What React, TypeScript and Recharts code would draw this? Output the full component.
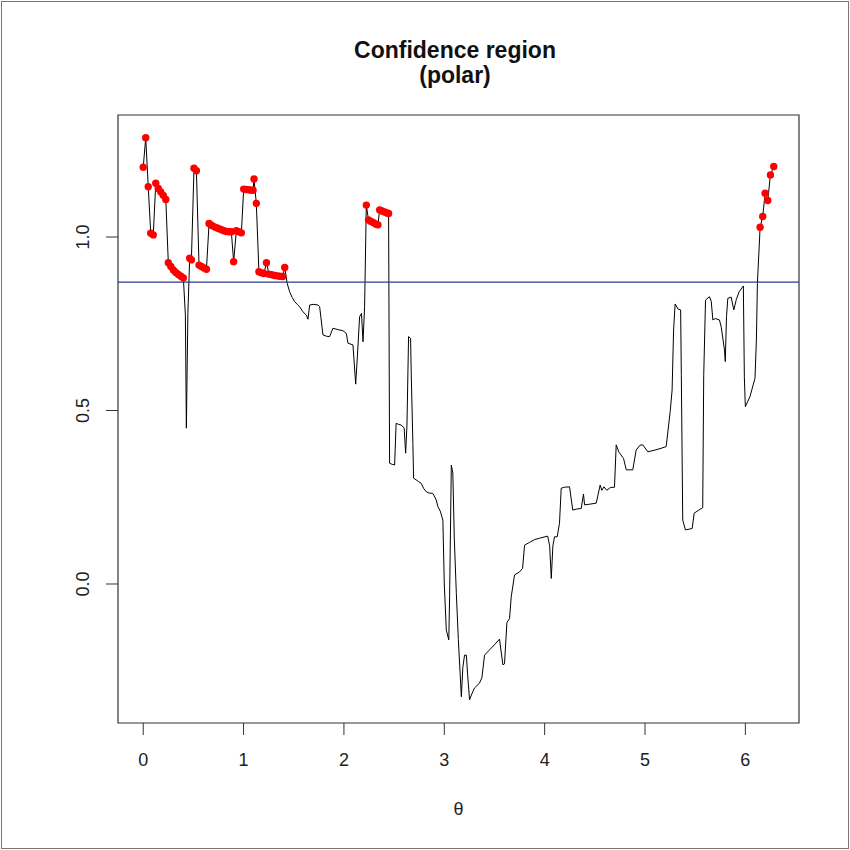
import { ComposedChart, Line, Scatter, XAxis, YAxis, ReferenceLine, ReferenceArea } from 'recharts';

// angle values (radians) and radius of the confidence boundary
const THETA = [
  0.000, 0.025, 0.050, 0.075, 0.100, 0.125, 0.150, 0.175, 0.200, 0.225,
  0.250, 0.275, 0.300, 0.325, 0.350, 0.375, 0.400, 0.420, 0.430, 0.445,
  0.463, 0.480, 0.506, 0.530, 0.556, 0.580, 0.605, 0.630, 0.656, 0.680,
  0.705, 0.730, 0.755, 0.780, 0.805, 0.830, 0.855, 0.878, 0.901, 0.928,
  0.953, 0.978, 1.001, 1.025, 1.050, 1.075, 1.094, 1.104, 1.127, 1.153,
  1.178, 1.203, 1.228, 1.253, 1.280, 1.310, 1.335, 1.360, 1.390, 1.410,
  1.434, 1.459, 1.484, 1.509, 1.534, 1.559, 1.590, 1.625, 1.642, 1.658,
  1.700, 1.741, 1.758, 1.791, 1.825, 1.858, 1.890, 1.940, 1.990, 2.024,
  2.040, 2.090, 2.117, 2.135, 2.156, 2.175, 2.190, 2.206, 2.223, 2.245,
  2.270, 2.295, 2.320, 2.339, 2.356, 2.380, 2.405, 2.430, 2.445, 2.455,
  2.480, 2.505, 2.520, 2.545, 2.570, 2.600, 2.615, 2.628, 2.644, 2.664,
  2.671, 2.687, 2.694, 2.720, 2.745, 2.770, 2.795, 2.820, 2.850, 2.886,
  2.920, 2.936, 2.960, 2.986, 3.000, 3.020, 3.045, 3.053, 3.070, 3.085,
  3.100, 3.120, 3.140, 3.170, 3.185, 3.202, 3.220, 3.232, 3.252, 3.270,
  3.300, 3.350, 3.375, 3.401, 3.450, 3.500, 3.550, 3.584, 3.600, 3.624,
  3.650, 3.667, 3.700, 3.750, 3.780, 3.800, 3.850, 3.900, 3.949, 4.030,
  4.050, 4.066, 4.082, 4.098, 4.125, 4.148, 4.165, 4.200, 4.248, 4.280,
  4.320, 4.365, 4.387, 4.398, 4.450, 4.514, 4.553, 4.570, 4.590, 4.620,
  4.655, 4.696, 4.713, 4.740, 4.786, 4.813, 4.845, 4.878, 4.912, 4.950,
  4.978, 5.028, 5.100, 5.160, 5.211, 5.230, 5.251, 5.270, 5.285, 5.300,
  5.330, 5.355, 5.362, 5.376, 5.403, 5.440, 5.470, 5.490, 5.536, 5.575,
  5.585, 5.603, 5.642, 5.660, 5.676, 5.700, 5.742, 5.760, 5.792, 5.800,
  5.812, 5.825, 5.858, 5.885, 5.910, 5.938, 5.980, 5.990, 6.000, 6.046,
  6.096, 6.110, 6.120, 6.147, 6.173, 6.197, 6.223, 6.250, 6.283,
];

const RADIUS = [
  1.201, 1.286, 1.145, 1.011, 1.006, 1.155, 1.140, 1.130, 1.120, 1.108,
  0.926, 0.915, 0.905, 0.898, 0.892, 0.887, 0.882, 0.775, 0.449, 0.780,
  0.939, 0.934, 1.198, 1.191, 0.919, 0.915, 0.911, 0.907, 1.039, 1.034,
  1.030, 1.027, 1.024, 1.021, 1.018, 1.016, 1.015, 1.015, 0.929, 1.018,
  1.015, 1.012, 1.138, 1.137, 1.136, 1.135, 1.135, 1.167, 1.097, 0.900,
  0.897, 0.895, 0.926, 0.893, 0.891, 0.889, 0.888, 0.887, 0.886, 0.912,
  0.867, 0.842, 0.826, 0.814, 0.806, 0.799, 0.785, 0.775, 0.763, 0.804,
  0.806, 0.804, 0.799, 0.718, 0.714, 0.713, 0.737, 0.733, 0.730, 0.722,
  0.694, 0.689, 0.576, 0.660, 0.770, 0.780, 0.698, 0.799, 1.092, 1.049,
  1.045, 1.041, 1.037, 1.035, 1.078, 1.075, 1.072, 1.069, 1.068, 0.348,
  0.345, 0.343, 0.463, 0.460, 0.458, 0.450, 0.377, 0.458, 0.713, 0.708,
  0.602, 0.405, 0.305, 0.300, 0.295, 0.290, 0.275, 0.266, 0.262, 0.261,
  0.242, 0.223, 0.210, 0.184, 0.000, -0.133, -0.161, -0.037, 0.343, 0.320,
  0.130, -0.027, -0.160, -0.325, -0.240, -0.205, -0.205, -0.260, -0.334, -0.320,
  -0.300, -0.286, -0.270, -0.205, -0.190, -0.175, -0.159, -0.233, -0.230, -0.111,
  -0.100, -0.037, 0.026, 0.035, 0.045, 0.112, 0.120, 0.128, 0.132, 0.138,
  0.110, 0.016, 0.110, 0.136, 0.136, 0.175, 0.276, 0.279, 0.280, 0.213,
  0.216, 0.218, 0.259, 0.228, 0.230, 0.233, 0.285, 0.270, 0.280, 0.270,
  0.278, 0.279, 0.401, 0.380, 0.362, 0.329, 0.329, 0.329, 0.386, 0.400,
  0.401, 0.381, 0.386, 0.391, 0.396, 0.444, 0.497, 0.559, 0.732, 0.807,
  0.792, 0.790, 0.600, 0.184, 0.156, 0.158, 0.160, 0.204, 0.213, 0.220,
  0.600, 0.818, 0.828, 0.815, 0.761, 0.765, 0.761, 0.740, 0.674, 0.641,
  0.770, 0.823, 0.827, 0.790, 0.820, 0.842, 0.859, 0.597, 0.511, 0.540,
  0.593, 0.703, 0.866, 1.028, 1.059, 1.126, 1.105, 1.179, 1.203,
];

const THRESHOLD = 0.87;
const X_TICKS = [0, 1, 2, 3, 4, 5, 6];
const Y_TICKS = [0, 0.5, 1];
const X_DOMAIN = [-0.2513, 6.5345];
const Y_DOMAIN = [-0.4006, 1.3516];

const rows = THETA.map((t, i) => ({ theta: t, r: RADIUS[i] }));
const inside = rows.filter(d => d.r > THRESHOLD);

const FONT = '"Liberation Sans", Arial, sans-serif';

const XTick = (props: any) => (
  <text x={props.x} y={props.y + 23} textAnchor="middle" dominantBaseline="central"
    fontFamily={FONT} fontSize={18} fill="#222">
    {props.payload.value}
  </text>
);

const YTick = (props: any) => {
  const x = props.x - 21;
  const y = props.y;
  return (
    <text x={x} y={y} transform={`rotate(-90, ${x}, ${y})`} textAnchor="middle"
      dominantBaseline="central" fontFamily={FONT} fontSize={18} fill="#222">
      {Number(props.payload.value).toFixed(1)}
    </text>
  );
};

const Dot = (props: any) => <circle cx={props.cx} cy={props.cy} r={3.7} fill="#ff0000" />;

export default function App() {
  return (
    <div style={{ position: 'absolute', left: 0, top: 0, width: 850, height: 850, background: '#fff' }}>
      <div style={{ position: 'absolute', left: 1, top: 1, width: 846, height: 846, border: '1px solid #777' }} />
      <div style={{
        position: 'absolute', left: 0, top: 38, width: 910, textAlign: 'center',
        fontFamily: FONT, fontWeight: 'bold', fontSize: 23, lineHeight: '25px', color: '#111',
      }}>
        Confidence region<br />(polar)
      </div>
      <ComposedChart width={850} height={850} data={rows}
        margin={{ top: 115, right: 51, left: 58, bottom: 27 }}>
        <XAxis dataKey="theta" type="number" domain={X_DOMAIN} ticks={X_TICKS}
          allowDataOverflow axisLine={false} tickSize={12} tickLine={{ stroke: '#333' }}
          height={100} tick={<XTick />}
          label={{ value: 'θ', position: 'insideBottom', offset: 8, fontFamily: FONT, fontSize: 18, fill: '#222' }} />
        <YAxis type="number" domain={Y_DOMAIN} ticks={Y_TICKS} allowDataOverflow
          axisLine={false} tickSize={12} tickLine={{ stroke: '#333' }} width={60} tick={<YTick />} />
        <ReferenceArea x1={X_DOMAIN[0]} x2={X_DOMAIN[1]} y1={Y_DOMAIN[0]} y2={Y_DOMAIN[1]}
          fill="none" stroke="#333" strokeWidth={1.2} />
        <Line dataKey="r" type="linear" dot={false} stroke="#000" strokeWidth={1}
          isAnimationActive={false} />
        <ReferenceLine y={THRESHOLD} stroke="#2b3a92" strokeWidth={1.2} />
        <Scatter data={inside} dataKey="r" shape={<Dot />} isAnimationActive={false} />
      </ComposedChart>
    </div>
  );
}
